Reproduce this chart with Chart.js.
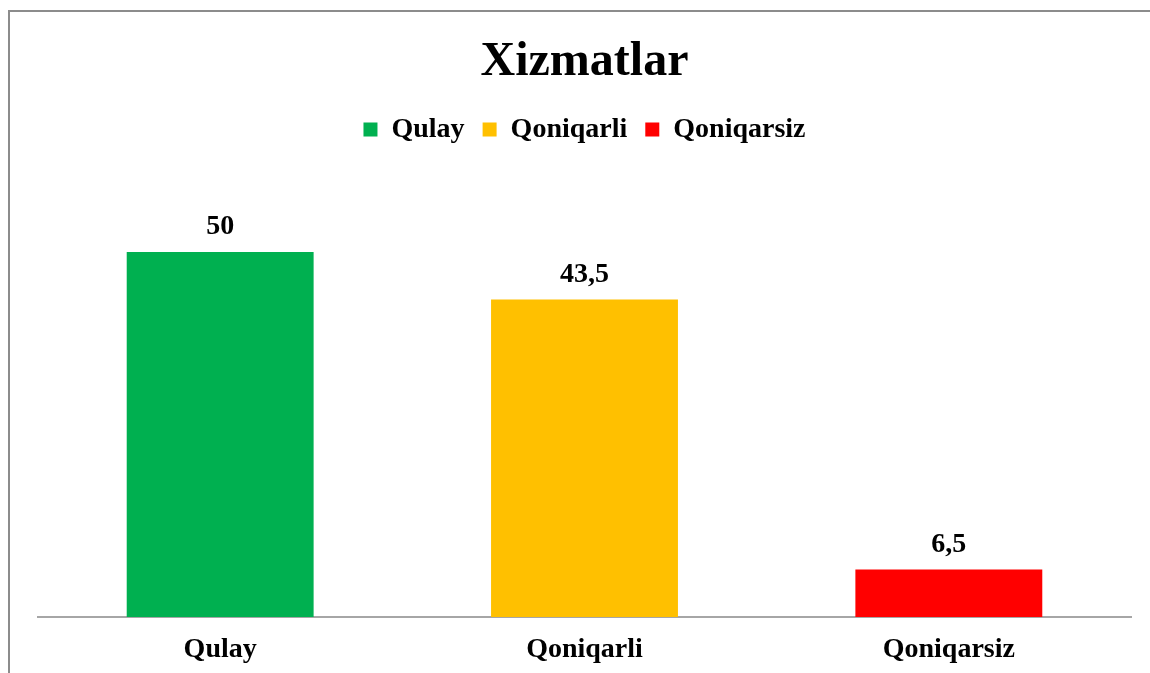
<!DOCTYPE html>
<html>
<head>
<meta charset="utf-8">
<script src="https://cdn.jsdelivr.net/npm/chart.js@4.4.0/dist/chart.umd.min.js"></script>
<style>
  html, body { margin: 0; padding: 0; background: #fff; }
  canvas { display: block; }
</style>
</head>
<body>
<canvas id="grafikXizmatlar" width="1150" height="673"></canvas>
<script>
const kategoriyalar = ["Qulay", "Qoniqarli", "Qoniqarsiz"];
const qiymatlar = [50, 43.5, 6.5];
const ranglar = ["#00B050", "#FFC000", "#FF0000"];

const shrift = "'Liberation Serif', 'Times New Roman', serif";

// chart frame like the Excel chart area border
const ramka = {
  id: "ramka",
  beforeDraw(chart) {
    const ctx = chart.ctx;
    ctx.save();
    ctx.strokeStyle = "#8c8c8c";
    ctx.lineWidth = 2;
    ctx.strokeRect(9, 11, 1300, 800);
    ctx.restore();
  },
};

// value labels above bars
const qiymatYozuvlari = {
  id: "qiymatYozuvlari",
  afterDatasetsDraw(chart) {
    const ctx = chart.ctx;
    const meta = chart.getDatasetMeta(0);
    ctx.save();
    ctx.font = "bold 28px " + shrift;
    ctx.fillStyle = "#000";
    ctx.textAlign = "center";
    ctx.textBaseline = "alphabetic";
    meta.data.forEach((bar, i) => {
      const matn = String(qiymatlar[i]).replace(".", ",");
      ctx.fillText(matn, bar.x, bar.y - 18);
    });
    ctx.restore();
  },
};

const grafik = new Chart(document.getElementById("grafikXizmatlar"), {
  type: "bar",
  data: {
    labels: kategoriyalar,
    datasets: [
      {
        label: "Xizmatlar",
        data: qiymatlar,
        backgroundColor: ranglar,
        borderWidth: 0,
        categoryPercentage: 1,
        barPercentage: 0.513,
      },
    ],
  },
  options: {
    responsive: false,
    animation: false,
    layout: { padding: { left: 38, right: 19, top: 34, bottom: 0 } },
    plugins: {
      title: {
        display: true,
        text: "Xizmatlar",
        color: "#000",
        font: { family: shrift, size: 48, weight: "bold" },
        padding: { top: 0, bottom: 6 },
      },
      legend: {
        display: true,
        position: "top",
        labels: {
          boxWidth: 14,
          boxHeight: 14,
          padding: 18,
          color: "#000",
          font: { family: shrift, size: 28, weight: "bold" },
          generateLabels: () =>
            kategoriyalar.map((nom, i) => ({
              text: nom,
              fillStyle: ranglar[i],
              strokeStyle: ranglar[i],
              lineWidth: 0,
              index: i,
            })),
        },
      },
      tooltip: { enabled: false },
    },
    scales: {
      x: {
        grid: { display: false, drawTicks: false },
        border: { display: true, color: "#a6a6a6", width: 2 },
        ticks: {
          color: "#000",
          padding: 16,
          font: { family: shrift, size: 28, weight: "bold" },
        },
        afterFit(scale) {
          scale.height = 56;
        },
      },
      y: {
        display: false,
        min: 0,
        max: 63.5,
      },
    },
  },
  plugins: [ramka, qiymatYozuvlari],
});
</script>
</body>
</html>
